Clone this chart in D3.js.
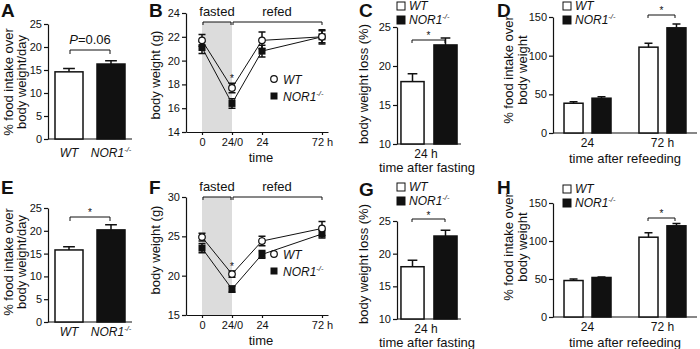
<!DOCTYPE html>
<html><head>
<script src="https://d3js.org/d3.v7.min.js"></script>
<style>
  body { margin: 0; background: #fff; }
  svg text { font-family: 'Liberation Sans', Arial, sans-serif; fill: #111; }
  .axis path, .axis line { stroke: #111; stroke-width: 1.2px; }
  .axis text { font-size: 11px; }
</style>
</head>
<body>
<svg id="fig" width="700" height="349" style="background:#fff"></svg>
<script>
const svg = d3.select("#fig");

// ---- data ----
const genotypes = ["WT", "NOR1-/-"];

// A / E : food intake over body weight per day (%)
const intakeA = [14.6, 16.3];
const intakeAErr = [0.7, 0.7];
const intakeE = [15.8, 20.2];
const intakeEErr = [0.7, 1.1];

// B / F : body weight (g) over time (hours since start of fast)
const timeHours = [0, 24, 48, 96];
const timeLabels = ["0", "24/0", "24", "72 h"];
const weightB_WT = [21.7, 17.7, 21.7, 22.0];
const weightB_WTErr = [0.5, 0.4, 0.7, 0.5];
const weightB_NOR = [21.1, 16.4, 20.8, 22.0];
const weightB_NORErr = [0.5, 0.4, 0.5, 0.6];
const weightF_WT = [24.9, 20.2, 24.4, 26.0];
const weightF_WTErr = [0.5, 0.4, 0.6, 0.9];
const weightF_NOR = [23.5, 18.3, 22.7, 25.3];
const weightF_NORErr = [0.6, 0.4, 0.5, 0.5];

// C / G : body weight loss (%) after 24 h fast
const lossC = [18.0, 22.7];
const lossCErr = [1.0, 0.9];
const lossG = [18.0, 22.7];
const lossGErr = [1.0, 0.9];

// D / H : food intake over body weight (%) after refeeding
const refeedTimes = ["24", "72 h"];
const intakeD_WT = [38.5, 111];
const intakeD_WTErr = [2, 5];
const intakeD_NOR = [45, 136];
const intakeD_NORErr = [2, 5];
const intakeH_WT = [48, 105];
const intakeH_WTErr = [2, 6];
const intakeH_NOR = [52, 120];
const intakeH_NORErr = [0.6, 3];

// ---- helpers ----
function geno(t, name) {
  t.style("font-style", "italic");
  if (name === "WT") { t.text("WT"); return t; }
  t.text("NOR1");
  t.append("tspan").attr("dy", -5).attr("font-size", "0.62em").text("-/-");
  return t;
}

function letter(x, y, s) {
  svg.append("text").attr("x", x).attr("y", y).attr("font-size", 19)
    .attr("font-weight", "bold").text(s);
}

function yTitle(lines, xs, cy) {
  lines.forEach((l, i) => {
    svg.append("text").attr("transform", `translate(${xs[i]},${cy}) rotate(-90)`)
      .attr("text-anchor", "middle").attr("font-size", 13).text(l);
  });
}

function label(x, y, s, size, anchor) {
  return svg.append("text").attr("x", x).attr("y", y).attr("font-size", size || 13)
    .attr("text-anchor", anchor || "middle").text(s);
}

function bracket(x1, x2, y, drop) {
  svg.append("path").attr("d", `M${x1},${y + drop}V${y}H${x2}V${y + drop}`)
    .attr("fill", "none").attr("stroke", "#111").attr("stroke-width", 1);
}

function star(x, y) {
  label(x, y, "*", 10).attr("fill", "#111").style("fill", "#111");
}

function yAxisAt(x0, y, ticks) {
  svg.append("g").attr("class", "axis").attr("transform", `translate(${x0},0)`)
    .call(d3.axisLeft(y).tickValues(ticks).tickSize(4).tickPadding(2).tickSizeOuter(0));
}

function bars(x, y, cats, values, errs, fills, base) {
  const g = svg.append("g");
  g.selectAll("rect").data(cats).join("rect")
    .attr("x", d => x(d)).attr("width", x.bandwidth())
    .attr("y", (d, i) => y(values[i]))
    .attr("height", (d, i) => base - y(values[i]))
    .attr("fill", (d, i) => fills[i]).attr("stroke", "#111").attr("stroke-width", 1.5);
  const cap = x.bandwidth() * 0.42;
  g.selectAll("path.err").data(cats).join("path").attr("class", "err")
    .attr("d", (d, i) => {
      const cx = x(d) + x.bandwidth() / 2, y0 = y(values[i]), y1 = y(values[i] + errs[i]);
      return `M${cx},${y0}V${y1}M${cx - cap / 2},${y1}H${cx + cap / 2}`;
    })
    .attr("stroke", "#111").attr("stroke-width", 1.5).attr("fill", "none");
}

function legendBox(x, y, fill, name) {
  svg.append("rect").attr("x", x).attr("y", y).attr("width", 8).attr("height", 8)
    .attr("fill", fill).attr("stroke", "#111").attr("stroke-width", 1);
  geno(label(x + 12, y + 8, "", 12, "start"), name);
}

// ---- A / E ----
function intakePanel(vals, errs, yTop, yBot, labY, titleY) {
  const y = d3.scaleLinear().domain([0, 25]).range([yBot, yTop]);
  const x = d3.scaleBand().domain(genotypes).range([48, 132]).paddingInner(1 / 3).paddingOuter(1 / 6);
  yAxisAt(48, y, [0, 5, 10, 15, 20, 25]);
  svg.append("line").attr("x1", 48).attr("x2", 132).attr("y1", yBot).attr("y2", yBot)
    .attr("stroke", "#111").attr("stroke-width", 1.2);
  bars(x, y, genotypes, vals, errs, ["#fff", "#111"], yBot);
  genotypes.forEach(d => geno(label(x(d) + x.bandwidth() / 2, labY, "", 12), d));
  yTitle(["% food intake over", "body weight/day"], [13, 26], titleY);
  return { x, y };
}

const pA = intakePanel(intakeA, intakeAErr, 24, 139, 157, 82);
bracket(70, 110, 50, 4);
const pt = label(90, 44, "", 13);
pt.append("tspan").style("font-style", "italic").text("P");
pt.append("tspan").text("=0.06");
letter(1, 17, "A");

const pE = intakePanel(intakeE, intakeEErr, 208, 322, 336, 262);
bracket(70, 110, 217, 4);
star(90, 216);
letter(1, 194, "E");

// ---- B / F ----
function weightPanel(wt, wtErr, nor, norErr, yDom, yTicks, yTop, yBot, dy) {
  const x = d3.scaleLinear().domain([-12.8, 100.8]).range([186, 328]);
  const y = d3.scaleLinear().domain(yDom).range([yBot, yTop]);
  const shadeTop = 22 + dy;
  svg.append("rect").attr("x", x(0)).attr("width", x(24) - x(0))
    .attr("y", shadeTop).attr("height", yBot - shadeTop).attr("fill", "#dcdcdc");
  yAxisAt(186, y, yTicks);
  svg.append("g").attr("class", "axis").attr("transform", `translate(0,${yBot})`)
    .call(d3.axisBottom(x).tickValues(timeHours).tickFormat((d, i) => timeLabels[i])
      .tickSize(3).tickPadding(3).tickSizeOuter(0))
    .selectAll("text").attr("font-size", 12);
  const line = d3.line().x((d, i) => x(timeHours[i])).y(d => y(d));
  [nor, wt].forEach(s => svg.append("path").attr("d", line(s)).attr("fill", "none")
    .attr("stroke", "#111").attr("stroke-width", 1));
  [[nor, norErr], [wt, wtErr]].forEach(([v, e]) => {
    svg.append("g").selectAll("path").data(v).join("path")
      .attr("d", (d, i) => {
        const cx = x(timeHours[i]), a = y(d - e[i]), b = y(d + e[i]);
        return `M${cx},${a}V${b}M${cx - 3.5},${a}h7M${cx - 3.5},${b}h7`;
      })
      .attr("stroke", "#111").attr("stroke-width", 1.5).attr("fill", "none");
  });
  svg.append("g").selectAll("rect").data(nor).join("rect")
    .attr("x", (d, i) => x(timeHours[i]) - 3.5).attr("y", d => y(d) - 3.5)
    .attr("width", 7).attr("height", 7).attr("fill", "#111");
  svg.append("g").selectAll("circle").data(wt).join("circle")
    .attr("cx", (d, i) => x(timeHours[i])).attr("cy", d => y(d)).attr("r", 3.3)
    .attr("fill", "#fff").attr("stroke", "#111").attr("stroke-width", 1.2);
  // fasted / refed brackets
  bracket(x(0) + 1, x(24) - 1, 22 + dy, 3);
  bracket(x(24) + 1, x(96), 22 + dy, 3);
  label((x(0) + x(24)) / 2, 16 + dy, "fasted", 13);
  label((x(24) + x(96)) / 2, 16 + dy, "refed", 13);
  label(x(48) - 1, yBot + 30, "time", 13);
  yTitle(["body weight (g)"], [160], 75 + dy);
  // legend
  svg.append("circle").attr("cx", 274).attr("cy", 79 + dy).attr("r", 3.3)
    .attr("fill", "#fff").attr("stroke", "#111").attr("stroke-width", 1.2);
  geno(label(283, 83.5 + dy, "", 12, "start"), "WT");
  svg.append("rect").attr("x", 270.5).attr("y", 92.5 + dy).attr("width", 7).attr("height", 7).attr("fill", "#111");
  geno(label(283, 100.5 + dy, "", 12, "start"), "NOR1-/-");
  return { x, y };
}

const pB = weightPanel(weightB_WT, weightB_WTErr, weightB_NOR, weightB_NORErr,
  [14, 24], [14, 16, 18, 20, 22, 24], 13, 132, 0);
star(pB.x(24), pB.y(weightB_WT[1] + weightB_WTErr[1]) - 1);
letter(149, 17, "B");

const pF = weightPanel(weightF_WT, weightF_WTErr, weightF_NOR, weightF_NORErr,
  [15, 30], [15, 20, 25, 30], 197, 315, 175);
star(pF.x(24), pF.y(weightF_WT[1] + weightF_WTErr[1]) - 1);
letter(149, 194, "F");

// ---- C / G ----
function lossPanel(vals, errs, yTop, yBot, titleY) {
  const y = d3.scaleLinear().domain([10, 25]).range([yBot, yTop]);
  const x = d3.scaleBand().domain(genotypes).range([397, 461]).paddingInner(0.3).paddingOuter(0.12);
  yAxisAt(397, y, [10, 15, 20, 25]);
  svg.append("line").attr("x1", 397).attr("x2", 461).attr("y1", yBot).attr("y2", yBot)
    .attr("stroke", "#111").attr("stroke-width", 1.2);
  bars(x, y, genotypes, vals, errs, ["#fff", "#111"], yBot);
  label(426, yBot + 14, "24 h", 12);
  label(427, yBot + 28, "time after fasting", 13);
  yTitle(["body weight loss (%)"], [368], titleY);
  return { x, y };
}

const pC = lossPanel(lossC, lossCErr, 27, 144, 84);
bracket(412, 445, 40, 3);
star(428.5, 39);
legendBox(397, 2, "#fff", "WT");
legendBox(397, 16, "#111", "NOR1-/-");
letter(359, 17, "C");

const pG = lossPanel(lossG, lossGErr, 221, 319, 264);
bracket(412, 445, 219, 3);
star(428.5, 218.5);
legendBox(397, 183, "#fff", "WT");
legendBox(397, 197, "#111", "NOR1-/-");
letter(359, 196, "G");

// ---- D / H ----
function refeedPanel(wt, wtErr, nor, norErr, yTop, yBot, titleY) {
  const y = d3.scaleLinear().domain([0, 150]).range([yBot, yTop]);
  const x0 = d3.scaleBand().domain(refeedTimes).range([553, 697]).paddingInner(0.373).paddingOuter(0.147);
  yAxisAt(553, y, [0, 50, 100, 150]);
  svg.append("line").attr("x1", 553).attr("x2", 697).attr("y1", yBot).attr("y2", yBot)
    .attr("stroke", "#111").attr("stroke-width", 1.2);
  refeedTimes.forEach((t, j) => {
    const xs = d3.scaleBand().domain(genotypes)
      .range([x0(t), x0(t) + x0.bandwidth()]).paddingInner(0.32);
    bars(xs, y, genotypes, [wt[j], nor[j]], [wtErr[j], norErr[j]], ["#fff", "#111"], yBot);
    label(x0(t) + x0.bandwidth() / 2, yBot + 14, t, 12);
  });
  label(625, yBot + 30, "time after refeeding", 13);
  yTitle(["% food intake over", "body weight"], [513, 527], titleY);
  return { x0, y };
}

const pD = refeedPanel(intakeD_WT, intakeD_WTErr, intakeD_NOR, intakeD_NORErr, 17, 133, 70);
bracket(648, 675, 15, 3);
star(661.5, 14);
legendBox(563, 2, "#fff", "WT");
legendBox(563, 16, "#111", "NOR1-/-");
letter(497, 17, "D");

const pH = refeedPanel(intakeH_WT, intakeH_WTErr, intakeH_NOR, intakeH_NORErr, 203, 317, 247);
bracket(648, 675, 218, 3);
star(661.5, 217);
legendBox(563, 185, "#fff", "WT");
legendBox(563, 199, "#111", "NOR1-/-");
letter(497, 194, "H");
</script>
</body>
</html>
